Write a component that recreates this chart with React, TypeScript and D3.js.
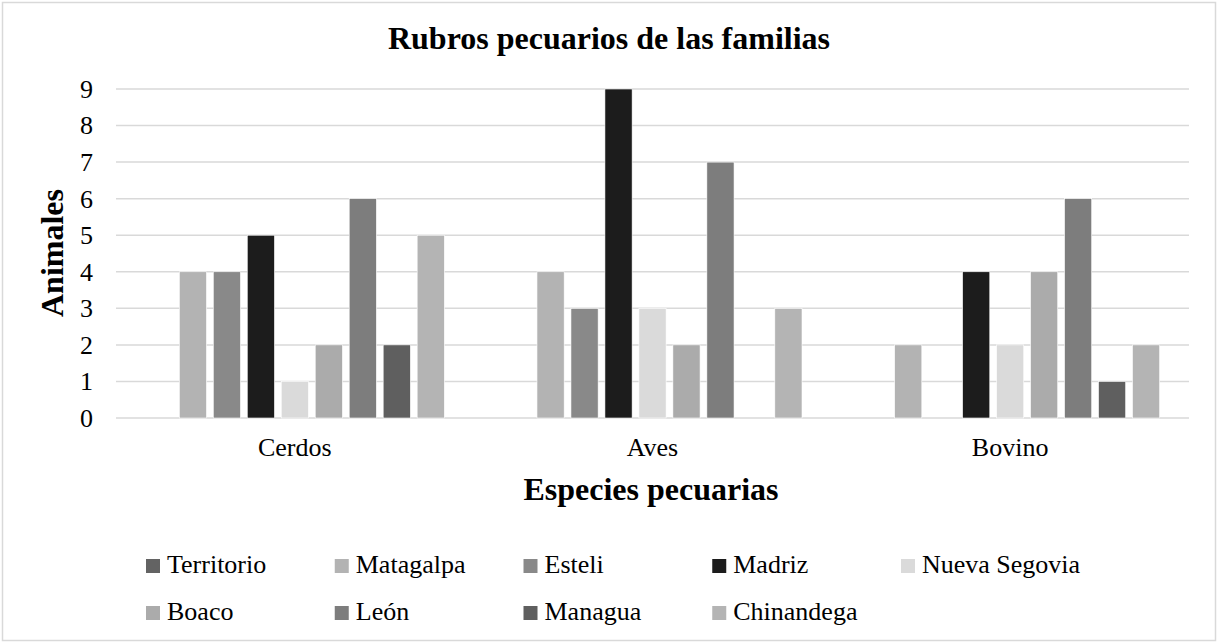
import React from "react";
import * as d3 from "d3";

const categorias = ["Cerdos", "Aves", "Bovino"];
const territorios = [
  "Territorio",
  "Matagalpa",
  "Esteli",
  "Madriz",
  "Nueva Segovia",
  "Boaco",
  "León",
  "Managua",
  "Chinandega",
];
// valores por territorio, en el orden de categorias (null = sin barra)
const territorio = [null, null, null];
const matagalpa = [4, 4, 2];
const esteli = [4, 3, null];
const madriz = [5, 9, 4];
const nuevaSegovia = [1, 3, 2];
const boaco = [2, 2, 4];
const leon = [6, 7, 6];
const managua = [2, null, 1];
const chinandega = [5, 3, 2];
const yTicks = [0, 1, 2, 3, 4, 5, 6, 7, 8, 9];

const colores = [
  "#636363",
  "#b3b3b3",
  "#898989",
  "#1c1c1c",
  "#dadada",
  "#ababab",
  "#7d7d7d",
  "#5f5f5f",
  "#b4b4b4",
];

const valores = [
  territorio,
  matagalpa,
  esteli,
  madriz,
  nuevaSegovia,
  boaco,
  leon,
  managua,
  chinandega,
];

const width = 1218;
const height = 643;
const plot = { left: 116, right: 1189, top: 89, bottom: 418 };
const font = "Liberation Serif, DejaVu Serif, serif";

const App = () => {
  const x0 = d3
    .scaleBand()
    .domain(categorias)
    .range([plot.left, plot.right])
    .paddingInner(0.164)
    .paddingOuter(0.082);
  const x1 = d3
    .scaleBand()
    .domain(territorios)
    .range([0, x0.bandwidth()])
    .paddingInner(0.2);
  const y = d3.scaleLinear().domain([0, 9]).range([plot.bottom, plot.top]);

  const legendX = d3
    .scalePoint()
    .domain(d3.range(5).map(String))
    .range([146, 901]);

  return (
    <svg
      width={width}
      height={height}
      fontFamily={font}
      style={{ position: "absolute", left: 0, top: 0 }}
    >
      <rect x={0} y={0} width={width} height={height} fill="#fff" />
      <rect
        x={2.5}
        y={2.5}
        width={1213}
        height={638}
        fill="none"
        stroke="#d9d9d9"
        strokeWidth={1.5}
      />
      <text
        x={609}
        y={49}
        textAnchor="middle"
        fontSize={32}
        fontWeight="bold"
        fontFamily={font}
      >
        Rubros pecuarios de las familias
      </text>

      {yTicks.map((t) => (
        <g key={t}>
          <line
            x1={plot.left}
            x2={plot.right}
            y1={y(t)}
            y2={y(t)}
            stroke="#d9d9d9"
            strokeWidth={1.5}
          />
          <text
            x={93}
            y={y(t)}
            dy="0.34em"
            textAnchor="end"
            fontSize={26}
            fontFamily={font}
          >
            {t}
          </text>
        </g>
      ))}

      {categorias.map((c, ci) => (
        <g key={c} transform={`translate(${x0(c)},0)`}>
          {territorios.map((s, si) => {
            const v = valores[si][ci];
            if (v == null) return null;
            return (
              <rect
                key={s}
                x={x1(s)}
                y={y(v)}
                width={x1.bandwidth()}
                height={y(0) - y(v)}
                fill={colores[si]}
                stroke="#fff"
                strokeWidth={0.6}
              />
            );
          })}
          <text
            x={x0.bandwidth() / 2}
            y={456}
            textAnchor="middle"
            fontSize={26}
            fontFamily={font}
          >
            {c}
          </text>
        </g>
      ))}

      <text
        transform={`translate(63,253) rotate(-90)`}
        textAnchor="middle"
        fontSize={32}
        fontWeight="bold"
        fontFamily={font}
      >
        Animales
      </text>
      <text
        x={651}
        y={500}
        textAnchor="middle"
        fontSize={32}
        fontWeight="bold"
        fontFamily={font}
      >
        Especies pecuarias
      </text>

      {territorios.map((s, i) => {
        const col = i % 5;
        const row = Math.floor(i / 5);
        const lx = legendX(String(col))!;
        const ly = 573 + row * 47;
        return (
          <g key={s}>
            <rect x={lx} y={ly - 14} width={14} height={14} fill={colores[i]} />
            <text x={lx + 21} y={ly} fontSize={26} fontFamily={font}>
              {s}
            </text>
          </g>
        );
      })}
    </svg>
  );
};

export default App;
